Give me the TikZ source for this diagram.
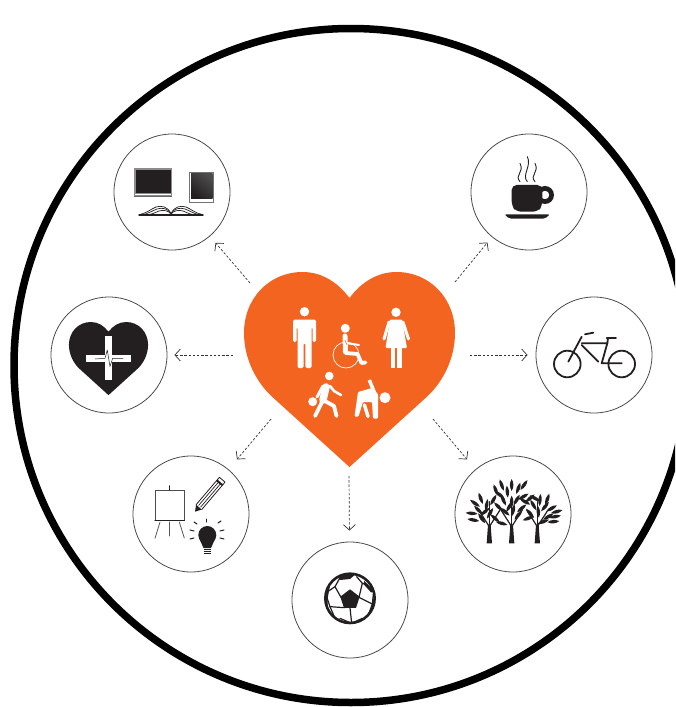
\documentclass[tikz,border=0pt]{standalone}
\usepackage{xcolor}
\usepackage{tikz}
\usetikzlibrary{arrows.meta}

\definecolor{heartorange}{HTML}{F36421}
\definecolor{ink}{HTML}{231F20}

\tikzset{
	iconcircle/.style={circle,draw=black!70,line width=0.8pt,minimum size=116pt,inner sep=0pt},
	dashlink/.style={draw=black!80,line width=0.7pt,dash pattern=on 2.4pt off 1.8pt,-{Straight Barb[length=5.5pt,width=12pt,line width=0.7pt]}},
	inkline/.style={draw=ink,line cap=round,line join=round},
	whiteline/.style={draw=white,line cap=round,line join=round},
}

% Heart outline, origin at the top centre, 211 wide and 195 high
\def\heartpath{(0,26) .. controls (-12,10) and (-28,0) .. (-47,0)
	.. controls (-80,0) and (-105.5,26) .. (-105.5,61)
	.. controls (-105.5,88) and (-92,112) .. (-76,126) -- (0,195) -- (76,126)
	.. controls (92,112) and (105.5,88) .. (105.5,61)
	.. controls (105.5,26) and (80,0) .. (47,0)
	.. controls (28,0) and (12,10) .. (0,26) -- cycle}

\begin{document}
\begin{tikzpicture}[x=1pt,y=-1pt]
	\useasboundingbox (0,0) rectangle (675,707);
	\clip (0,0) rectangle (675,707);
	\fill[white] (0,0) rectangle (675,707);
	
	% Outer ring
	\draw[line width=7.5pt] (351,365.5) circle (337pt);
	
	% Icon circles
	\node[iconcircle] (circlebook) at (172,192) {};
	\node[iconcircle] (circlecoffee) at (529,192) {};
	\node[iconcircle] (circlemedic) at (109,355) {};
	\node[iconcircle] (circlebike) at (594,355) {};
	\node[iconcircle] (circleeasel) at (191,514) {};
	\node[iconcircle] (circletree) at (513,514) {};
	\node[iconcircle] (circleball) at (350,600) {};
	
	% Start points on the heart
	\coordinate (startbook) at (250,283);
	\coordinate (startcoffee) at (455,282);
	\coordinate (startmedic) at (233,355);
	\coordinate (startbike) at (470,355);
	\coordinate (starteasel) at (271,419);
	\coordinate (starttree) at (433,419);
	\coordinate (startball) at (349,476);
	
	% Dashed arrows
	\foreach \name/\gap in {book/8.5,coffee/7,medic/7,bike/8,easel/13,tree/13,ball/11} {
		\draw[dashlink,shorten >=\gap pt] (start\name) -- (circle\name);
	}
	
	% Big heart
	\fill[heartorange,shift={(349.5,272)}] \heartpath;
	
	% Man
	\fill[white] (304.5,311.7) circle (4.7pt);
	\fill[white,rounded corners=1.5pt,shift={(304.5,0)}] (-11.5,319.5) -- (11.5,319.5) -- (11.5,342) -- (8,342) -- (8,327) -- (7,327)
		-- (7,368) -- (0.8,368) -- (0.8,343) -- (-0.8,343) -- (-0.8,368) -- (-7,368) -- (-7,327) -- (-8,327) -- (-8,342) -- (-11.5,342) -- cycle;
	
	% Woman
	\fill[white] (396,312.3) circle (4.7pt);
	\fill[white,rounded corners=1pt] (390,319.5) -- (402,319.5) -- (407,348) -- (385.5,348) -- cycle;
	\draw[whiteline,line width=3pt] (389,322) -- (384,339);
	\draw[whiteline,line width=3pt] (403,322) -- (408.5,339);
	\fill[white] (390.8,348) rectangle (395,368);
	\fill[white] (397,348) rectangle (401.8,368);
	
	% Wheelchair
	\fill[white] (345.3,328.3) circle (4.5pt);
	\draw[whiteline,line width=0.7pt] (346,355) circle (13pt);
	\draw[whiteline,line width=5pt] (345,336) -- (345.5,352);
	\draw[whiteline,line width=3.8pt] (345.5,353) -- (357.5,354) -- (361.5,363) -- (365.5,362.5);
	\draw[whiteline,line width=2pt] (346,343) -- (359,345);
	\draw[heartorange,line width=0.5pt] (345,340) -- (347,345);
	
	% Walker with a ball
	\fill[white] (329.3,376) circle (4.3pt);
	\fill[white] (312.7,401.7) circle (4.5pt);
	\draw[whiteline,line width=7.5pt] (326,387) -- (323,400);
	\draw[whiteline,line width=3.8pt] (323,400) -- (315,416);
	\draw[whiteline,line width=3.8pt] (323,400) -- (334,406) -- (336.5,416);
	\draw[whiteline,line width=3pt] (323,386) -- (317,397);
	\draw[whiteline,line width=2.6pt] (330,386) -- (334,391) -- (341,395);
	
	% Stretching figure
	\fill[white] (385,397.7) circle (5.5pt);
	\draw[whiteline,line width=3.5pt,line cap=butt] (369.3,380) -- (376.7,398);
	\fill[white,rounded corners=1pt] (358,392) -- (372,388) -- (378,394) -- (378,418.5) -- (373,418.5) -- (372,402) -- (363,402) -- (358.5,416.5) -- (354.5,416.5) -- cycle;
	\draw[whiteline,line width=3.5pt] (364.5,405) -- (368,416.5);
	
	% Laptop
	\fill[black!45] (134.3,168.3) rectangle (171.7,197.3);
	\fill[ink] (135.5,169.5) rectangle (170.5,192.5);
	\fill[white] (135,193.6) rectangle (171,195);
	\fill[black!60] (134.3,195.5) rectangle (171.7,197.3);
	
	% Tablet
	\fill[black!55] (189.3,171.7) rectangle (214.3,202.7);
	\fill[white] (190.2,172.6) rectangle (213.4,201.8);
	\shade[top color=black!70,middle color=ink,bottom color=ink,shading angle=-40] (191,173.3) rectangle (212.7,198.3);
	
	% Open book
	\draw[inkline,line width=1.4pt] (139,215) -- (203,215);
	\foreach \s in {1,-1} {
		\begin{scope}[shift={(171,0)},xscale=\s]
			\draw[inkline,line width=0.7pt] (0,214) .. controls (-3,206) and (-10,205.5) .. (-15,207) .. controls (-20,209) and (-24,213) .. (-31,214.5);
			\draw[inkline,line width=0.7pt] (0,214) .. controls (-3,208) and (-9,207.5) .. (-14,209) .. controls (-19,211) and (-22,213) .. (-27,214.5);
			\draw[inkline,line width=0.7pt] (0,214) .. controls (-3,210) and (-8,210) .. (-12,211) .. controls (-16,212.5) and (-18,214) .. (-22,214.5);
		\end{scope}
	}
	
	% Coffee cup
	\begin{scope}[shift={(465,130)},scale=0.3333]
		\foreach \x/\top in {165/100,187/80,210/100} {
			\draw[inkline,line width=0.9pt] (\x,155) .. controls (\x-18,135) and (\x+14,\top+28) .. (\x,\top);
		}
		\fill[ink,even odd rule] (240,195) circle (27) (240,195) circle (13);
		\fill[ink,rounded corners=5pt] (140,165) -- (232,165) -- (232,228) -- (218,245) -- (154,245) -- (140,228) -- cycle;
		\fill[ink,rounded corners=2pt] (118,253) -- (255,253) -- (240,266) -- (133,266) -- cycle;
	\end{scope}
	
	% Small heart with cross
	\fill[ink,shift={(108.5,322)},scale=0.375] \heartpath;
	\fill[white] (105,336) rectangle (112.3,380);
	\fill[white] (86,355) rectangle (131,361.7);
	\draw[inkline,line width=0.5pt] (95,359) -- (105,358.3) -- (107.3,350) -- (110,366.5) -- (112.7,358.3) -- (123,358.3);
	
	% Bicycle
	\draw[inkline,line width=1.8pt] (567.3,364) circle (13.3pt);
	\draw[inkline,line width=1.8pt] (621.7,364) circle (13.3pt);
	\draw[inkline,line width=1.8pt] (568.3,361.7) -- (581.7,336.7);
	\draw[inkline,line width=1.8pt] (585,334.3) -- (593.3,332.7);
	\draw[inkline,line width=1.8pt] (581.7,343.3) -- (607.3,343.3) -- (601.7,363.3) -- (621.7,363.3);
	\draw[inkline,line width=1.8pt] (581.7,345) -- (598.3,361.7);
	\draw[inkline,line width=1.8pt] (606.7,338.3) -- (616,338.3);
	\draw[inkline,line width=1.8pt] (608,338.3) -- (607.3,343.3);
	
	% Easel
	\draw[draw=ink!80,line width=1pt] (155,490) rectangle (184.3,520.7);
	\draw[inkline,line width=1.4pt] (155,520.7) -- (184.3,520.7);
	\draw[inkline,line width=1.2pt] (169.3,486) -- (169.3,490);
	\draw[inkline,draw=ink!75,line width=0.8pt] (160,522) -- (155,538.3);
	\draw[inkline,draw=ink!75,line width=0.8pt] (169.3,522) -- (169.3,536);
	\draw[inkline,draw=ink!75,line width=0.8pt] (179.3,522) -- (184.3,538);
	
	% Pencil
	\begin{scope}[shift={(195,511.7)},rotate=49.6]
		\fill[ink] (0,0) -- (6,3.7) -- (6,-3.7) -- cycle;
		\draw[inkline,line width=0.8pt] (6,3.7) -- (42,3.7) -- (42,-3.7) -- (6,-3.7);
		\draw[ink,line width=0.7pt] (7,1.3) -- (37,1.3);
		\draw[ink,line width=0.7pt] (7,-1.3) -- (37,-1.3);
		\fill[ink] (37,3.7) rectangle (39,-3.7);
	\end{scope}
	
	% Light bulb
	\fill[ink] (207.3,535) circle (9pt);
	\fill[ink] (199.5,539) -- (215,539) -- (211,548) -- (203.5,548) -- cycle;
	\foreach \y in {549.2,551.2,553.2} {
		\draw[ink,line width=1.2pt] (203.5,\y) -- (211,\y);
	}
	\foreach \xa/\ya/\xb/\yb in {206/519/206/522, 194/522/197/524, 221/521/218/523, 190/530/194/531, 224/530/220/531, 190/539/194/538, 224/539/220/538} {
		\draw[inkline,line width=1pt] (\xa,\ya) -- (\xb,\yb);
	}
	
	% Trees
	\begin{scope}[shift={(450,450)},scale=0.3333]
		\foreach \x in {118,185,262} {
			\fill[ink] (\x-8,280) -- (\x+8,280) -- (\x+4,225) -- (\x-4,225) -- cycle;
			\draw[inkline,line width=1.2pt] (\x,230) -- (\x-32,180);
			\draw[inkline,line width=1.2pt] (\x,230) -- (\x+32,180);
			\draw[inkline,line width=1.2pt] (\x,235) -- (\x,155);
		}
		\foreach \x/\y/\a in {155/105/110,185/105/90,205/115/70,222/105/55,172/125/95,137/120/110,
			200/150/60,160/150/115,185/155/90,220/140/30,145/170/135,215/175/40,165/185/140,
			135/205/140,205/195/50,155/220/165,235/205/20,190/180/80,150/135/140,225/155/150,178/170/60,
			92/145/110,75/160/145,110/165/80,130/150/60,65/190/175,85/180/135,120/190/60,95/205/125,70/210/170,105/185/40,
			240/145/40,270/150/85,292/148/70,250/165/120,285/170/50,305/175/30,320/185/15,265/185/95,
			295/200/30,315/200/10,240/190/130,280/215/20,310/215/5,255/145/150} {
			\fill[ink,shift={(\x,\y)},rotate=\a] (-18,0) .. controls (-6,7) and (6,7) .. (18,0) .. controls (6,-7) and (-6,-7) .. (-18,0) -- cycle;
		}
	\end{scope}
	
	% Soccer ball
	\begin{scope}[shift={(285,535)},scale=0.3333]
		\draw[ink,line width=2.6pt] (195,190) circle (74);
		\fill[ink] (195,163) -- (224,185) -- (213,219) -- (177,219) -- (166,185) -- cycle;
		\foreach \xa/\ya/\xb/\yb in {168/187/150/155, 222/187/232/145, 222/187/262/207, 195/218/200/265, 178/218/135/215,
			150/155/165/128, 150/155/128/170, 232/145/215/125, 232/145/248/150, 262/207/265/178, 262/207/250/240,
			200/265/165/250, 200/265/232/250, 135/215/125/185, 135/215/148/245} {
			\draw[inkline,line width=1.2pt] (\xa,\ya) -- (\xb,\yb);
		}
		\begin{scope}
			\clip (195,190) circle (74);
			\fill[ink] (160,115) -- (215,115) -- (195,132) -- (165,135) -- cycle;
			\fill[ink] (238,138) -- (270,170) -- (258,172) -- (236,148) -- cycle;
			\fill[ink] (115,170) -- (135,152) -- (128,190) -- (128,212) -- (115,210) -- cycle;
			\fill[ink] (140,240) -- (170,258) -- (190,262) -- (190,270) -- (135,270) -- cycle;
			\fill[ink] (215,262) -- (250,240) -- (250,270) -- (215,270) -- cycle;
		\end{scope}
	\end{scope}
\end{tikzpicture}
\end{document}
